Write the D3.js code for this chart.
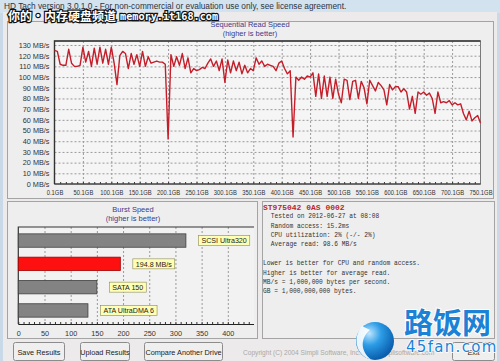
<!DOCTYPE html>
<html>
<head>
<meta charset="utf-8">
<script src="https://cdn.jsdelivr.net/npm/d3@7"></script>
<style>
  html, body { margin: 0; padding: 0; background: #c9d9e8; }
  svg { display: block; font-family: "Liberation Sans", Arial, sans-serif; }
</style>
</head>
<body>
<div id="chart"></div>
<script>
// sequential read, one reading every 5 GB from 0.1 GB to 750.1 GB (MB/s)
const readSpeeds = [
  125, 124, 112, 111, 111, 126, 113, 110, 110, 111,
  128, 114, 124, 110, 127, 112, 128, 113, 126, 112,
  128, 113, 93, 120, 124, 122, 108, 122, 112, 121,
  110, 124, 110, 119, 113, 114, 115, 114, 114, 112,
  42, 121, 110, 119, 111, 122, 108, 118, 104, 108,
  106, 107, 109, 108, 113, 117, 110, 115, 106, 117,
  95, 116, 104, 115, 106, 114, 103, 111, 104, 108,
  106, 118, 112, 115, 110, 112, 111, 110, 106, 113,
  115, 108, 103, 106, 44, 100, 97, 100, 98, 101,
  100, 104, 82, 103, 80, 101, 82, 100, 80, 98,
  84, 76, 98, 97, 79, 96, 97, 80, 96, 90,
  75, 97, 92, 87, 95, 92, 88, 74, 93, 88,
  91, 91, 86, 89, 86, 70, 82, 66, 86, 84,
  86, 83, 85, 80, 66, 86, 76, 77, 76, 78,
  74, 76, 74, 75, 66, 60, 68, 59, 62, 64,
  57
];
const gbTicks = [0.1, 50.1, 100.1, 150.1, 200.1, 250.1, 300.1, 350.1, 400.1, 450.1, 500.1, 550.1, 600.1, 650.1, 700.1, 750.1];
const mbTicks = [0, 10, 20, 30, 40, 50, 60, 70, 80, 90, 100, 110, 120, 130];

const burstNames = ["SCSI Ultra320", "This drive", "SATA 150", "ATA UltraDMA 6"];
const burstValues = [320, 194.8, 150, 133];
const burstTags = ["SCSI Ultra320", "194.8 MB/s", "SATA 150", "ATA UltraDMA 6"];
const burstTicks = [0, 50, 100, 150, 200, 250, 300, 350, 400];

const driveName = "ST975042 0AS 0002";
const driveLines = [
  "Tested on 2012-06-27 at 08:08",
  "Random access: 15.2ms",
  "CPU utilization: 2% (-/- 2%)",
  "Average read: 98.6 MB/s"
];
const noteLines = [
  "Lower is better for CPU and random access.",
  "Higher is better for average read.",
  "MB/s = 1,000,000 bytes per second.",
  "GB = 1,000,000,000 bytes."
];
const buttons = ["Save Results", "Upload Results", "Compare Another Drive"];

const W = 500, H = 361;
const svg = d3.select("#chart").append("svg").attr("width", W).attr("height", H);

// window frame
svg.append("rect").attr("width", W).attr("height", H).attr("fill", "#c9d9e8");
svg.append("rect").attr("width", W).attr("height", 13).attr("fill", "#d3e2ef");
svg.append("rect").attr("x", 3).attr("y", 12).attr("width", W - 6).attr("height", H - 12).attr("fill", "#eceaea");
svg.append("text").attr("x", 4).attr("y", 9).attr("font-size", 8.3).attr("fill", "#2c3440")
  .text("HD Tach version 3.0.1.0  - For non-commercial or evaluation use only, see license agreement.");

// group boxes
const boxes = [
  { x: 7, y: 21, w: 486, h: 177 },
  { x: 7, y: 201, w: 250, h: 137 },
  { x: 262, y: 201, w: 232, h: 137 }
];
svg.selectAll("rect.box").data(boxes).enter().append("rect")
  .attr("x", (b) => b.x + 0.5).attr("y", (b) => b.y + 0.5)
  .attr("width", (b) => b.w).attr("height", (b) => b.h)
  .attr("fill", "#efeeee").attr("stroke", "#a4a4a4");

// ---- sequential read chart
const x = d3.scaleLinear().domain([0.1, 750.1]).range([54.5, 480.5]);
const y = d3.scaleLinear().domain([0, 130]).range([184, 45]);
const plotTop = 41;

const seq = svg.append("g");
seq.append("rect").attr("x", x(0.1)).attr("y", plotTop).attr("width", x(750.1) - x(0.1))
  .attr("height", y(0) - plotTop).attr("fill", "#f5f5f5");

seq.append("text").attr("x", 250).attr("y", 27).attr("text-anchor", "middle")
  .attr("font-size", 7.5).attr("fill", "#3a3a8c").text("Sequential Read Speed");
seq.append("text").attr("x", 250).attr("y", 35.5).attr("text-anchor", "middle")
  .attr("font-size", 7.5).attr("fill", "#3a3a8c").text("(higher is better)");

seq.append("g").attr("transform", `translate(0,${plotTop})`)
  .call(d3.axisBottom(x).tickValues(gbTicks.slice(1, -1)).tickSize(y(0) - plotTop).tickFormat(""))
  .call((g) => g.select(".domain").remove())
  .call((g) => g.selectAll("line").attr("stroke", "#9a9a9a").attr("stroke-dasharray", "2,2"));

seq.append("g").attr("transform", `translate(${x(0.1)},0)`)
  .call(d3.axisRight(y).tickValues(mbTicks.slice(1)).tickSize(x(750.1) - x(0.1)).tickFormat(""))
  .call((g) => g.select(".domain").remove())
  .call((g) => g.selectAll("line").attr("stroke", "#9a9a9a").attr("stroke-dasharray", "2,2"));

seq.append("g").attr("transform", `translate(${x(0.1) - 2},0)`)
  .call(d3.axisLeft(y).tickValues(mbTicks).tickSize(0).tickFormat((d) => `${d} MB/s`))
  .call((g) => g.select(".domain").remove())
  .call((g) => g.selectAll("text").attr("font-size", 7.3).attr("fill", "#333").attr("font-family", "Liberation Sans"));

seq.append("g").attr("transform", `translate(0,${y(0)})`)
  .call(d3.axisBottom(x).tickValues(d3.range(10.1, 750, 10)).tickSize(-2).tickFormat(""))
  .call((g) => g.select(".domain").remove())
  .call((g) => g.selectAll("line").attr("stroke", "#333"));

seq.append("g").attr("transform", `translate(0,${y(0) + 3})`)
  .call(d3.axisBottom(x).tickValues(gbTicks).tickSize(0).tickFormat((d) => `${d}GB`))
  .call((g) => g.select(".domain").remove())
  .call((g) => g.selectAll("text").attr("font-size", 7.3).attr("fill", "#333")
    .attr("font-family", "Liberation Sans").attr("transform", "scale(0.8,1)"));

seq.append("rect").attr("x", x(0.1)).attr("y", plotTop).attr("width", x(750.1) - x(0.1))
  .attr("height", y(0) - plotTop).attr("fill", "none").attr("stroke", "#7a7a7a");
seq.append("path").attr("d", `M${x(0.1)},${y(0)}V${plotTop}H${x(750.1)}`)
  .attr("fill", "none").attr("stroke", "#333").attr("stroke-width", 1.4);
seq.append("line").attr("x1", x(0.1)).attr("x2", x(750.1)).attr("y1", y(0)).attr("y2", y(0))
  .attr("stroke", "#222");

const line = d3.line().x((d, i) => x(0.1 + 5 * i)).y((d) => y(d));
seq.append("path").datum(readSpeeds).attr("d", line)
  .attr("fill", "none").attr("stroke", "#c41e2a").attr("stroke-width", 1.4)
  .attr("stroke-linejoin", "round");

// ---- burst speed chart
const bx = d3.scaleLinear().domain([0, 450]).range([18.3, 254]);
const by = d3.scaleBand().domain(burstNames).range([227, 324]).paddingInner(0.425).paddingOuter(0.294);

const burst = svg.append("g");
burst.append("text").attr("x", 133).attr("y", 212).attr("text-anchor", "middle")
  .attr("font-size", 7.5).attr("fill", "#3a3a8c").text("Burst Speed");
burst.append("text").attr("x", 133).attr("y", 220.5).attr("text-anchor", "middle")
  .attr("font-size", 7.5).attr("fill", "#3a3a8c").text("(higher is better)");

burst.append("rect").attr("x", bx(0)).attr("y", 227).attr("width", bx(450) - bx(0)).attr("height", 97)
  .attr("fill", "#f2f2f2");

burst.append("g").attr("transform", "translate(0,227)")
  .call(d3.axisBottom(bx).tickValues(burstTicks.slice(1)).tickSize(97).tickFormat(""))
  .call((g) => g.select(".domain").remove())
  .call((g) => g.selectAll("line").attr("stroke", "#9a9a9a").attr("stroke-dasharray", "2,2"));

burst.append("g").attr("transform", "translate(0,324)")
  .call(d3.axisBottom(bx).tickValues(d3.range(0, 450, 10)).tickSize(-2).tickFormat(""))
  .call((g) => g.select(".domain").remove())
  .call((g) => g.selectAll("line").attr("stroke", "#333"));

burst.append("g").attr("transform", "translate(0,328)")
  .call(d3.axisBottom(bx).tickValues(burstTicks).tickSize(0))
  .call((g) => g.select(".domain").remove())
  .call((g) => g.selectAll("text").attr("font-size", 7.3).attr("fill", "#333").attr("font-family", "Liberation Sans"));

burst.append("path").attr("d", `M${bx(0)},324V227H${bx(450)}`)
  .attr("fill", "none").attr("stroke", "#333").attr("stroke-width", 1.2);
burst.append("line").attr("x1", bx(0)).attr("x2", bx(450)).attr("y1", 324.5).attr("y2", 324.5)
  .attr("stroke", "#222");

burst.selectAll("rect.bar").data(burstNames).enter().append("rect")
  .attr("x", bx(0)).attr("y", (d) => by(d))
  .attr("width", (d, i) => bx(burstValues[i]) - bx(0)).attr("height", by.bandwidth())
  .attr("fill", (d, i) => (i === 1 ? "#ff1010" : "#838383"))
  .attr("stroke", (d, i) => (i === 1 ? "#a00000" : "#404040")).attr("stroke-width", 0.8);

const tags = burst.selectAll("g.tag").data(burstNames).enter().append("g")
  .attr("transform", (d, i) => `translate(${bx(burstValues[i]) + 12.5},${by(d) + by.bandwidth() / 2})`);
tags.append("text").attr("x", 3).attr("y", 2.8).attr("font-size", 7.1).attr("fill", "#222")
  .text((d, i) => burstTags[i]);
tags.each(function () {
  const g = d3.select(this);
  const w = g.select("text").node().getComputedTextLength();
  g.insert("rect", "text").attr("x", 0).attr("y", -5).attr("width", w + 6).attr("height", 10)
    .attr("fill", "#ffffb4").attr("stroke", "#8a8a5a").attr("stroke-width", 0.6);
});

// ---- drive info
svg.append("text").attr("x", 263).attr("y", 209.5).attr("fill", "#b82828").attr("font-weight", "bold")
  .attr("font-family", "'Liberation Mono', 'DejaVu Sans Mono', monospace").attr("font-size", 8)
  .text(driveName);
const info = svg.append("g").attr("transform", "translate(263,0) scale(0.88,1)")
  .attr("font-family", "'Liberation Mono', 'DejaVu Sans Mono', monospace").attr("font-size", 7.1);
info.selectAll("text.d").data(driveLines).enter().append("text")
  .attr("x", 8.8).attr("y", (d, i) => 218.5 + i * 9.3).attr("fill", "#333").text((d) => d);
info.selectAll("text.n").data(noteLines).enter().append("text")
  .attr("x", 0).attr("y", (d, i) => 265.5 + i * 9.3).attr("fill", "#333").text((d) => d);

// ---- buttons
const btnX = [13, 80, 144, 452];
const btnW = [51, 49, 78, 42];
const btnLabels = buttons.concat(["Exit"]);
const btn = svg.selectAll("g.btn").data(btnLabels).enter().append("g")
  .attr("transform", (d, i) => `translate(${btnX[i]},342)`);
btn.append("rect").attr("x", 0.5).attr("y", 0.5).attr("width", (d, i) => btnW[i]).attr("height", 18).attr("rx", 2)
  .attr("fill", "#efefef").attr("stroke", "#8c8c8c");
btn.append("text").attr("x", (d, i) => btnW[i] / 2 + 0.5).attr("y", 12.5).attr("text-anchor", "middle")
  .attr("font-size", 7.3).attr("fill", "#222").text((d) => d);

svg.append("text").attr("x", 243).attr("y", 354.5).attr("font-size", 6.6).attr("fill", "#a9a9a9")
  .text("Copyright (C) 2004 Simpli Software, Inc. www.simplisoftware.com");

// ---- watermarks
svg.append("text").attr("x", 8).attr("y", 21).attr("font-family", "'Noto Sans CJK SC', sans-serif")
  .attr("font-weight", "bold").attr("font-size", 12).attr("fill", "#fff")
  .attr("stroke", "#111").attr("stroke-width", 2.4).attr("paint-order", "stroke")
  .text("你的·内存硬盘频道");
svg.append("text").attr("x", 120).attr("y", 20).attr("font-family", "'DejaVu Sans Mono', monospace")
  .attr("font-weight", "bold").attr("font-size", 10.2).attr("fill", "#fff")
  .attr("stroke", "#111").attr("stroke-width", 2.4).attr("paint-order", "stroke")
  .text("memory.it168.com");

const defs = svg.append("defs");
const grad = defs.append("radialGradient").attr("id", "ball").attr("cx", "35%").attr("cy", "30%").attr("r", "70%");
grad.append("stop").attr("offset", "0%").attr("stop-color", "#bfe6ff");
grad.append("stop").attr("offset", "45%").attr("stop-color", "#2c9ce6");
grad.append("stop").attr("offset", "100%").attr("stop-color", "#0a5fae");
svg.append("circle").attr("cx", 375).attr("cy", 341).attr("r", 19).attr("fill", "url(#ball)");
svg.append("path").attr("d", "M362,326 C352,338 356,356 372,360 C360,352 360,338 370,330 Z")
  .attr("fill", "#ffffff").attr("opacity", 0.9);
svg.append("text").attr("x", 404).attr("y", 334).attr("font-family", "'Noto Sans CJK SC', sans-serif")
  .attr("font-weight", "bold").attr("font-size", 29).attr("fill", "#1c82d6")
  .attr("stroke", "#fff").attr("stroke-width", 2).attr("paint-order", "stroke")
  .text("路饭网");
svg.append("text").attr("x", 406).attr("y", 352).attr("font-family", "'DejaVu Sans', sans-serif")
  .attr("font-size", 15).attr("letter-spacing", 1.3).attr("fill", "#1c82d6")
  .attr("stroke", "#fff").attr("stroke-width", 1.5).attr("paint-order", "stroke")
  .text("45fan.com");
</script>
</body>
</html>
